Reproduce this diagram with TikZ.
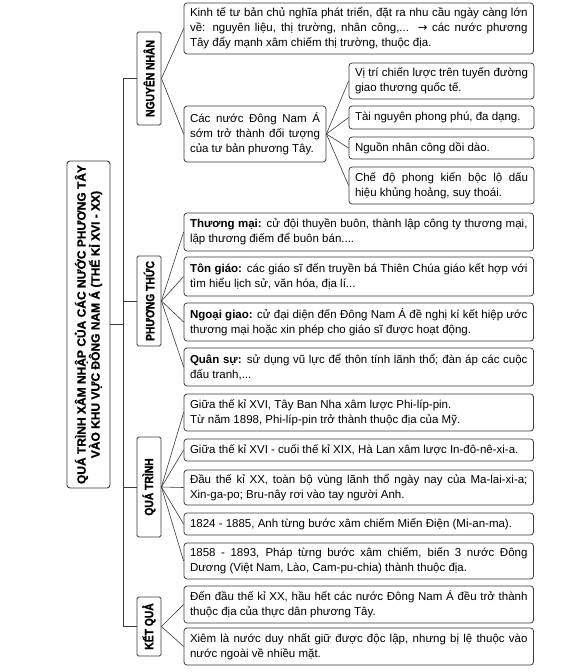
\documentclass[tikz,border=0pt]{standalone}
\usepackage{fontspec}
\usepackage{graphicx}
\setmainfont{Liberation Sans}
\newfontfamily\catfont[FakeBold=1.5]{Liberation Sans Bold}
\newfontfamily\ttlfont[FakeBold=1]{Liberation Sans Bold}
\newfontfamily\arrowfont{DejaVu Sans}
\newcommand{\catlabel}[1]{\scalebox{0.86}[1]{#1}}
\definecolor{bordc}{HTML}{3A3A3A}
\begin{document}
\begin{tikzpicture}[x=1pt,y=-1pt,
  tbox/.style={draw=bordc, line width=0.75pt, rounded corners=3pt, align=justify,
    text width=#1, inner xsep=6pt, inner ysep=2pt,
    font=\fontsize{11.5}{15}\selectfont, text=black},
  catbox/.style={draw=bordc, line width=0.9pt, rounded corners=1.5pt, rotate=90,
    inner sep=0pt, minimum height=24pt, text=black,
    font=\catfont\fontsize{12}{13}\selectfont},
  titlebox/.style={draw=bordc, line width=0.9pt, rounded corners=3pt, rotate=90,
    inner sep=0pt, align=center, text=black,
    font=\ttlfont\fontsize{12}{14}\selectfont},
  link/.style={draw=bordc, line width=0.6pt}]
\useasboundingbox (0,0) rectangle (580,672);

% title
\node[titlebox, minimum width=327pt, minimum height=43pt] (title) at (88.5,324.5)
  {QUÁ TRÌNH XÂM NHẬP CỦA CÁC NƯỚC PHƯƠNG TÂY\\VÀO KHU VỰC ĐÔNG NAM Á (THẾ KỈ XVI - XX)};

% categories
\node[catbox, minimum width=93pt] (nn) at (149,78.5) {\catlabel{NGUYÊN NHÂN}};
\node[catbox, minimum width=90pt] (pt) at (149,301) {\catlabel{PHƯƠNG THỨC}};
\node[catbox, minimum width=100pt] (qt) at (149,487) {\catlabel{QUÁ TRÌNH}};
\node[catbox, minimum width=59pt] (kq) at (149,626.5) {\catlabel{KẾT QUẢ}};

% nguyen nhan
\node[tbox=337.5pt, minimum height=51pt] (b1) at (358.75,28.5)
  {Kinh tế tư bản chủ nghĩa phát triển, đặt ra nhu cầu ngày càng lớn\linebreak
   về: nguyên liệu, thị trường, nhân công,... {\arrowfont →} các nước phương\linebreak
   Tây đẩy mạnh xâm chiếm thị trường, thuộc địa.};
\node[tbox=130pt, minimum height=56pt] (b2) at (255,134)
  {Các nước Đông Nam Á\linebreak sớm trở thành đối tượng\linebreak của tư bản phương Tây.};
\node[tbox=173pt, minimum height=36pt] (s1) at (441.5,81)
  {Vị trí chiến lược trên tuyến đường\linebreak giao thương quốc tế.};
\node[tbox=173pt, minimum height=23pt] (s2) at (441.5,117.5)
  {Tài nguyên phong phú, đa dạng.};
\node[tbox=173pt, minimum height=22pt] (s3) at (441.5,148)
  {Nguồn nhân công dồi dào.};
\node[tbox=173pt, minimum height=37pt] (s4) at (441.5,185.5)
  {Chế độ phong kiến bộc lộ dấu\linebreak hiệu khủng hoảng, suy thoái.};

% phuong thuc
\node[tbox=337.5pt, minimum height=38pt] (p1) at (358.75,232)
  {\textbf{Thương mại:} cử đội thuyền buôn, thành lập công ty thương mại,\linebreak
   lập thương điếm để buôn bán....};
\node[tbox=337.5pt, minimum height=39pt] (p2) at (358.75,276.5)
  {\textbf{Tôn giáo:} các giáo sĩ đến truyền bá Thiên Chúa giáo kết hợp với\linebreak
   tìm hiểu lịch sử, văn hóa, địa lí...};
\node[tbox=337.5pt, minimum height=38pt] (p3) at (358.75,322)
  {\textbf{Ngoại giao:} cử đại diện đến Đông Nam Á đề nghị kí kết hiệp ước\linebreak
   thương mại hoặc xin phép cho giáo sĩ được hoạt động.};
\node[tbox=337.5pt, minimum height=38pt] (p4) at (358.75,367)
  {\textbf{Quân sự:} sử dụng vũ lực để thôn tính lãnh thổ; đàn áp các cuộc\linebreak
   đấu tranh,...};

% qua trinh
\node[tbox=337.5pt, minimum height=37pt] (q1) at (358.75,412.5)
  {Giữa thế kỉ XVI, Tây Ban Nha xâm lược Phi-líp-pin.\\
   Từ năm 1898, Phi-líp-pin trở thành thuộc địa của Mỹ.};
\node[tbox=337.5pt, minimum height=22pt] (q2) at (358.75,450)
  {Giữa thế kỉ XVI - cuối thế kỉ XIX, Hà Lan xâm lược In-đô-nê-xi-a.};
\node[tbox=337.5pt, minimum height=35pt] (q3) at (358.75,487.5)
  {Đầu thế kỉ XX, toàn bộ vùng lãnh thổ ngày nay của Ma-lai-xi-a;\linebreak
   Xin-ga-po; Bru-nây rơi vào tay người Anh.};
\node[tbox=337.5pt, minimum height=22pt] (q4) at (358.75,524)
  {1824 - 1885, Anh từng bước xâm chiếm Miến Điện (Mi-an-ma).};
\node[tbox=337.5pt, minimum height=36pt] (q5) at (358.75,561)
  {1858 - 1893, Pháp từng bước xâm chiếm, biến 3 nước Đông\linebreak
   Dương (Việt Nam, Lào, Cam-pu-chia) thành thuộc địa.};

% ket qua
\node[tbox=337.5pt, minimum height=37pt] (k1) at (358.75,604.5)
  {Đến đầu thế kỉ XX, hầu hết các nước Đông Nam Á đều trở thành\linebreak
   thuộc địa của thực dân phương Tây.};
\node[tbox=337.5pt, minimum height=37pt] (k2) at (358.75,646.5)
  {Xiêm là nước duy nhất giữ được độc lập, nhưng bị lệ thuộc vào\linebreak
   nước ngoài về nhiều mặt.};

% trunk
\coordinate (trunk) at (123,0);
\draw[link] (title.south) -- (title.south -| trunk);
\draw[link] (nn.north) -- (nn.north -| trunk) -- (kq.north -| trunk) -- (kq.north);
\draw[link] (pt.north) -- (pt.north -| trunk);
\draw[link] (qt.north) -- (qt.north -| trunk);

% fans
\foreach \t in {b1,b2} \draw[link] (nn.south) -- (\t.west);
\foreach \t in {s1,s2,s3,s4} \draw[link] (b2.east) -- (\t.west);
\foreach \t in {p1,p2,p3,p4} \draw[link] (pt.south) -- (\t.west);
\foreach \t in {q1,q2,q3,q4,q5} \draw[link] (qt.south) -- (\t.west);
\foreach \t in {k1,k2} \draw[link] (kq.south) -- (\t.west);
\end{tikzpicture}
\end{document}
